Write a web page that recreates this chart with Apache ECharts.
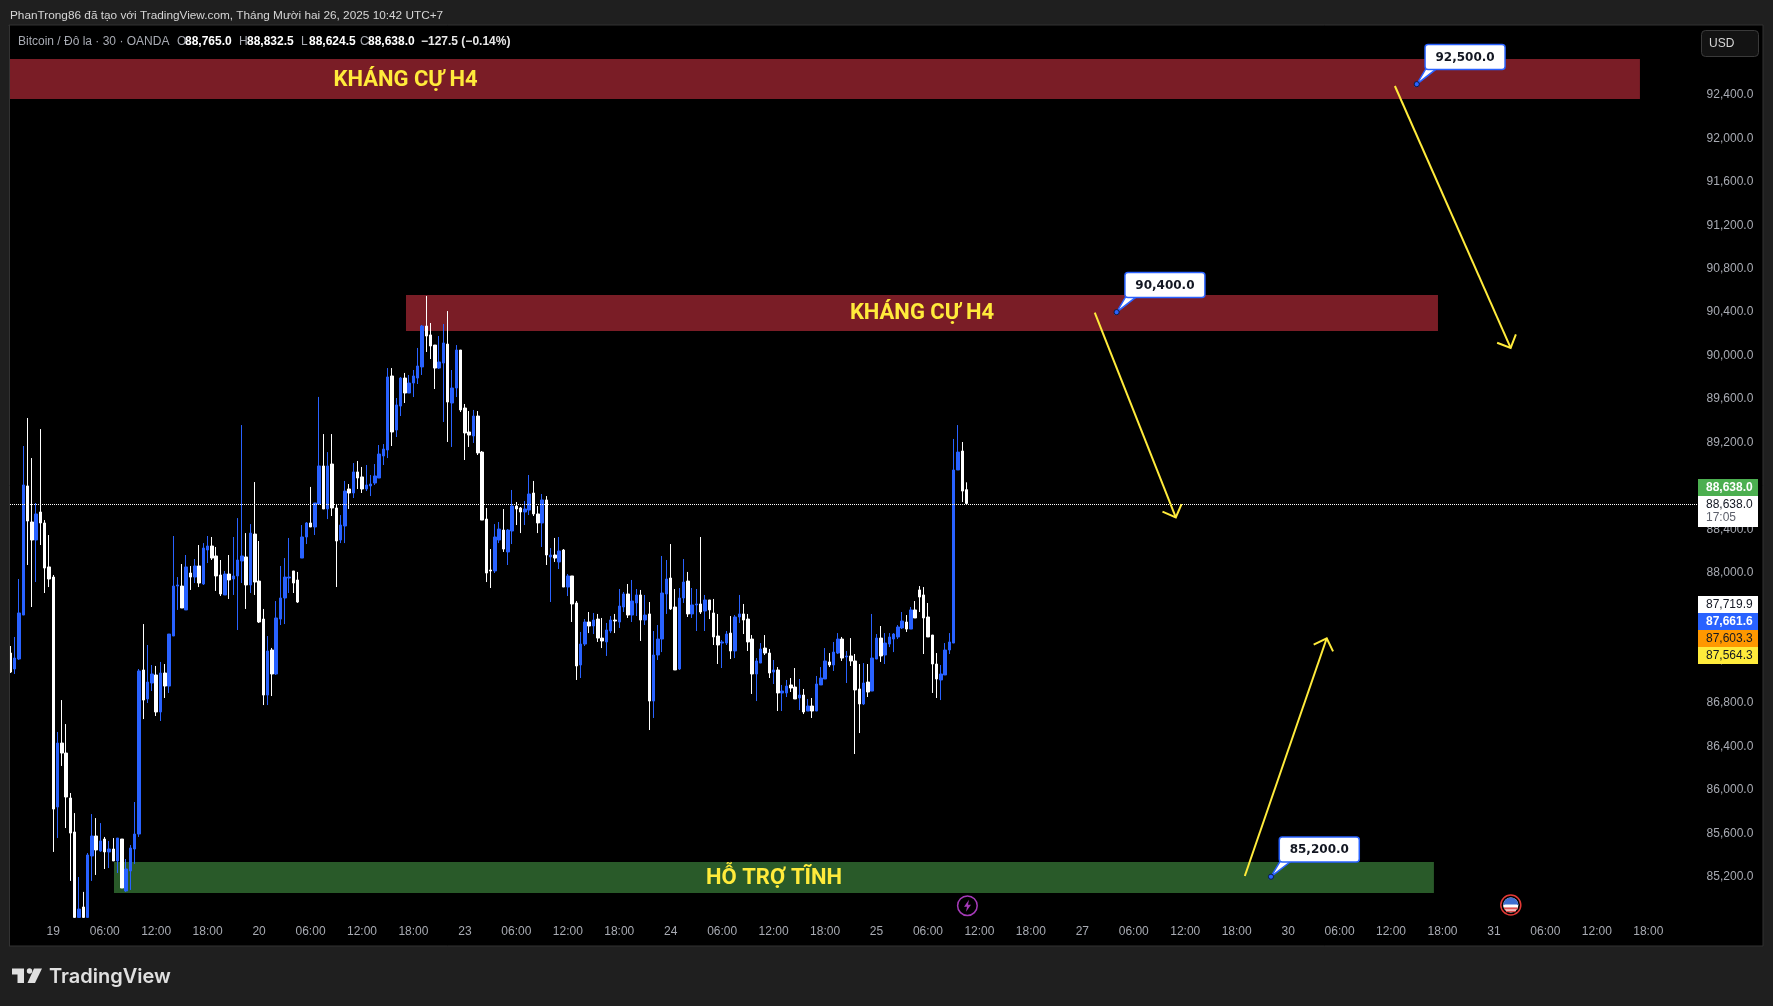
<!DOCTYPE html>
<html>
<head>
<meta charset="utf-8">
<style>html,body{margin:0;padding:0;background:#1f1f1f}#c{width:1773px;height:1006px}</style>
<script src="https://cdn.jsdelivr.net/npm/echarts@6/dist/echarts.min.js"></script>
</head>
<body>
<div id="c"></div>
<script>
const opens = [
87260,87113,87205,87610,88799,88467,88301,88559,88458,88053,
87960,85842,86431,86339,85925,85612,84825,84921,84825,85391,
85575,85437,85547,85428,85455,85345,85547,85069,85253,85455,
85593,87104,86837,86984,87058,86717,87076,86956,87417,87877,
87877,87657,87997,87960,88062,87896,88209,88246,88154,87979,
87795,87988,87942,87970,88108,88145,87887,88356,87923,87573,
86873,87288,87067,87573,87767,87951,88016,87933,88135,88329,
88458,88421,88633,88983,88587,89001,88596,88301,88430,88771,
88734,88928,88882,88771,88799,88826,88872,89075,89130,89812,
89314,89535,89793,89655,89747,89793,89895,90272,90190,90097,
89885,89931,90106,89563,89701,90051,89517,89296,89259,89443,
89111,88494,88025,88016,88301,88393,88191,88384,88614,88596,
88559,88577,88734,88541,88458,88670,88145,88163,88099,88209,
87868,87970,87721,87150,87343,87546,87509,87573,87398,87362,
87463,87564,87546,87684,87804,87610,87721,87795,87564,87620,
86818,87242,87389,87804,87951,87684,87113,87767,87923,87620,
87703,87712,87647,87749,87629,87417,87352,87352,87444,87279,
87592,87620,87573,87389,87067,87168,87306,87260,87085,87104,
86892,86892,86966,86947,86846,86873,86726,86772,86726,86966,
87021,87178,87150,87260,87389,87224,87233,87187,86929,86791,
86993,86910,87205,87398,87242,87343,87389,87408,87491,87546,
87481,87657,87841,87795,87592,87426,87159,87012,87058,87288,
87352,88946,89121,88765];
const closes = [
87085,87214,87629,88808,88476,88301,88541,88458,88043,87942,
85823,86431,86339,85934,85602,84825,84902,84825,85400,85575,
85446,85529,85428,85455,85345,85556,85096,85271,85464,85593,
87095,86827,86993,87067,86717,87076,86956,87435,87877,87887,
87675,88053,87960,88062,87905,88227,88246,88135,87970,87804,
87988,87933,87970,88117,88154,87887,88365,87914,87546,86873,
87279,87067,87583,87767,87960,87960,87905,87730,88329,88458,
88421,88642,88983,88587,88983,88596,88292,88439,88752,88734,
88928,88872,88771,88808,88817,88891,89093,89139,89803,89296,
89545,89793,89655,89747,89812,89904,90272,90180,90088,89885,
89941,90116,89572,89701,90051,89499,89287,89268,89443,89103,
88485,87997,88016,88329,88402,88218,88393,88614,88587,88559,
88587,88725,88541,88458,88670,88163,88163,88135,88200,87868,
87970,87712,87141,87343,87546,87509,87564,87398,87371,87472,
87564,87555,87693,87804,87610,87739,87795,87564,87610,86818,
87242,87389,87813,87942,87666,87104,87767,87914,87620,87703,
87712,87638,87749,87657,87408,87334,87362,87435,87279,87592,
87620,87564,87362,87067,87187,87297,87260,87076,87104,86892,
86910,86956,86938,86837,86873,86717,86772,86726,86975,87030,
87187,87150,87269,87389,87214,87233,87187,86920,86791,86984,
86901,87214,87398,87233,87352,87408,87435,87500,87555,87481,
87657,87583,87776,87583,87408,87159,87021,87067,87288,87362,
88946,89111,88752,88638];
const lows = [
87076,87067,87196,87610,88071,87684,87914,88255,87813,87868,
85428,85556,86220,85648,85161,84825,84825,84825,84825,85161,
85216,85428,85271,85280,85345,85234,85096,85060,85078,85317,
85566,86652,86800,86910,86680,86634,86846,86892,87417,87657,
87675,87657,87841,87905,87868,87887,88089,88117,87832,87785,
87795,87758,87795,87472,87905,87666,87813,87795,87537,86781,
86781,86864,87058,87518,87527,87813,87813,87721,88135,88264,
88421,88347,88633,88587,88494,88522,87868,88273,88273,88587,
88688,88771,88734,88752,88706,88808,88872,88992,89056,89167,
89250,89443,89563,89655,89618,89738,89821,90033,89968,89692,
89876,89388,89204,89158,89618,89480,89038,89158,89195,89084,
88485,87914,87859,87997,88273,88191,88071,88264,88439,88365,
88439,88531,88522,88365,88237,88071,87730,88099,88034,87868,
87785,87546,87012,87030,87325,87444,87435,87362,87306,87233,
87444,87444,87491,87638,87583,87546,87601,87371,87518,86551,
86662,87196,87269,87620,87657,87104,87104,87721,87592,87583,
87463,87620,87463,87573,87334,87159,87122,87334,87205,87214,
87537,87435,87279,86883,86818,87168,87242,87030,86975,86726,
86726,86855,86901,86837,86735,86698,86726,86662,86726,86966,
87021,87131,87095,87251,87187,86984,87141,86330,86523,86781,
86855,86910,87205,87178,87159,87315,87269,87389,87481,87454,
87481,87583,87638,87251,87408,86892,86846,86827,87058,87251,
87352,88946,88651,88624.5];
const highs = [
87325,87408,87942,89167,89425,89056,88642,89323,88485,88347,
87979,86533,86827,86606,85971,85786,85197,85060,85418,85777,
85740,85694,85566,85529,85556,85556,85547,85363,85492,85888,
87113,87527,87334,87150,87141,87178,87159,87435,88338,87960,
88080,88163,88062,88126,88255,88273,88338,88329,88237,88117,
88016,88163,88329,88503,89360,88365,88448,88835,88292,87666,
87417,87307,87739,88062,88135,88320,88016,88007,88439,88467,
88790,88642,89619,89277,89111,89277,88633,88531,88845,88817,
89010,89029,88974,88992,88900,89001,89176,89185,89885,89885,
89609,89803,89840,89821,89867,90070,90282,90549,90300,90097,
90180,90291,90410,89867,90097,90051,89554,89489,89499,89489,
89121,88596,88218,88448,88467,88587,88402,88762,88651,88605,
88660,88900,88845,88614,88725,88706,88227,88320,88329,88218,
87988,87970,87739,87454,87573,87638,87629,87620,87583,87537,
87601,87620,87850,87822,87896,87933,87850,87841,87795,87730,
87463,87518,88154,88117,88264,87850,87859,88126,88007,87859,
87850,88329,87795,87749,87758,87620,87380,87463,87601,87610,
87795,87712,87620,87426,87214,87352,87426,87297,87196,87131,
86966,87012,87030,87122,87021,86929,86837,86846,87049,87131,
87306,87260,87362,87444,87408,87279,87398,87251,87159,87168,
87159,87620,87435,87509,87444,87444,87444,87518,87638,87610,
87684,87739,87877,87868,87721,87426,87260,87150,87352,87444,
89232,89360,89204,88832.5];

const xTickLabels = ['19','06:00','12:00','18:00','20','06:00','12:00','18:00','23','06:00','12:00','18:00','24','06:00','12:00','18:00','25','06:00','12:00','18:00','27','06:00','12:00','18:00','30','06:00','12:00','18:00','31','06:00','12:00','18:00'];
const yTicks = [85200,85600,86000,86400,86800,87200,87600,88000,88400,88800,89200,89600,90000,90400,90800,91200,91600,92000,92400,92800];
const lastPrice = 88638;

const zoneNames = ['KHÁNG CỰ H4','KHÁNG CỰ H4','HỖ TRỢ TĨNH'];
const zoneStart = [-0.5,92.26,24.16];
const zoneEnd = [380.05,332.95,332];
const zoneHigh = [92732,90558,85335];
const zoneLow = [92363,90226,85050];
const zoneLabelAt = [92.15,212.6,178.1];

const noteValues = [92500,90400,85200];
const noteAt = [328,258,294];

const arrowFromAt = [322.9,252.9,287.9];
const arrowFromPrice = [92483,90395,85206];
const arrowToAt = [349.9,271.8,307];
const arrowToPrice = [90070,88510,87396];

const tagValues = ['88,638.0','88,638.0','87,719.9','87,661.6','87,603.3','87,564.3'];
const ohlcValues = ['88,765.0','88,832.5','88,624.5','88,638.0'];

const FONT = '"Liberation Sans", Arial, sans-serif';
const GRID_LEFT = 8.26, GRID_RIGHT_X = 1697.6, GRID_TOP = 26, GRID_BOTTOM_Y = 918;
const BAR_COUNT = 394;
const categories = [];
for (let i = 0; i < BAR_COUNT; i++) {
  const k = (i - 10) / 12;
  categories.push(Number.isInteger(k) && k >= 0 && k < xTickLabels.length ? xTickLabels[k] : '');
}
const candleData = opens.map((o, i) => [o, closes[i], lows[i], highs[i]]);
const fmt = v => v.toLocaleString('en-US', {minimumFractionDigits: 1, maximumFractionDigits: 1});

function txt(x, y, text, fill, size, weight, align, family) {
  return {type: 'text', z: 200, silent: true, x, y, style: {text, fill, font: `${weight || 'normal'} ${size || 12}px ${family || FONT}`, align: align || 'left', verticalAlign: 'middle'}};
}
function box(x, y, w, h, fill, extra) {
  return Object.assign({type: 'rect', z: 150, silent: true, shape: {x, y, width: w, height: h}, style: {fill}}, extra || {});
}

const tagStyles = [
  {y: 479, h: 17, bg: '#4caf50', fg: '#ffffff', w: 'bold'},
  {y: 496, h: 31, bg: '#ffffff', fg: '#131722', w: 'normal'},
  {y: 596, h: 17, bg: '#ffffff', fg: '#131722', w: 'normal'},
  {y: 613, h: 17, bg: '#2962ff', fg: '#ffffff', w: 'bold'},
  {y: 630, h: 17, bg: '#ff9800', fg: '#131722', w: 'normal'},
  {y: 647, h: 17, bg: '#ffeb3b', fg: '#131722', w: 'normal'}
];
const graphics = [];
// panel
graphics.push({type: 'rect', z: -10, silent: true, shape: {x: 9, y: 25, width: 1754, height: 921}, style: {fill: '#000000', stroke: '#333333', lineWidth: 1}});
graphics.push(box(0, 26, 9.5, 920, '#1f1f1f'));
graphics.push({type: 'line', z: 151, silent: true, shape: {x1: 9.5, y1: 25, x2: 9.5, y2: 946}, style: {stroke: '#333333', lineWidth: 1}});
// header
graphics.push(txt(10, 15.5, 'PhanTrong86 đã tạo với TradingView.com, Tháng Mười hai 26, 2025 10:42 UTC+7', '#d6d6d6', 11.8));
graphics.push(txt(18, 42, 'Bitcoin / Đô la · 30 · OANDA', '#a8abb3', 12));
['O','H','L','C'].forEach((l, i) => {
  const xs = [177, 239, 301, 360];
  graphics.push(txt(xs[i], 42, l, '#a8abb3', 12));
  graphics.push(txt(xs[i] + 8, 42, ohlcValues[i], '#ffffff', 12, 'bold'));
});
graphics.push(txt(421, 42, '−127.5 (−0.14%)', '#e8e8e8', 12, 'bold'));
// USD badge
graphics.push({type: 'rect', z: 150, silent: true, shape: {x: 1701.5, y: 30.5, width: 57, height: 26, r: 4}, style: {fill: '#131313', stroke: '#3a3a3a', lineWidth: 1}});
graphics.push(txt(1709, 44, 'USD', '#d6d6d6', 12));
// price tags
tagStyles.forEach((t, i) => {
  graphics.push(box(1698, t.y, 60, t.h, t.bg));
  graphics.push(txt(1706, t.y + 8.5, tagValues[i], t.fg, 12, t.w));
});
graphics.push(txt(1706, 518, '17:05', '#5d606b', 12));
// event icons
graphics.push({type: 'circle', z: 150, silent: true, shape: {cx: 967.4, cy: 905.7, r: 9.8}, style: {fill: '#000', stroke: '#a53ab8', lineWidth: 1.5}});
graphics.push({type: 'polygon', z: 151, silent: true, shape: {points: [[969,899.7],[964,906.7],[967,906.7],[966,911.7],[971,904.7],[968,904.7]]}, style: {fill: '#a53ab8'}});
graphics.push({type: 'circle', z: 150, silent: true, shape: {cx: 1510.8, cy: 905, r: 10}, style: {fill: '#000', stroke: '#e53935', lineWidth: 1.5}});
graphics.push({type: 'circle', z: 151, silent: true, shape: {cx: 1510.8, cy: 905, r: 7.6}, style: {fill: '#ffffff'}});
graphics.push({type: 'sector', z: 152, silent: true, shape: {cx: 1510.8, cy: 905, r: 7.6, startAngle: Math.PI, endAngle: Math.PI * 2}, style: {fill: '#3f6fd0'}});
graphics.push(box(1504.5, 904.5, 12.6, 1.8, '#ffffff', {z: 153}));
graphics.push(box(1503.6, 905.2, 14.4, 1.8, '#ffffff', {z: 153}));
graphics.push(box(1504, 907.4, 13.6, 2.1, '#e05050', {z: 153}));
graphics.push(box(1506, 910.6, 9.6, 1.6, '#e05050', {z: 153}));
// TradingView logo
graphics.push({type: 'polygon', z: 150, silent: true, shape: {points: [[12,968.5],[24,968.5],[24,983],[17.5,983],[17.5,974.5],[12,974.5]]}, style: {fill: '#e0e0e0'}});
graphics.push({type: 'circle', z: 150, silent: true, shape: {cx: 29.5, cy: 971, r: 2.7}, style: {fill: '#e0e0e0'}});
graphics.push({type: 'polygon', z: 150, silent: true, shape: {points: [[34,968.5],[42,968.5],[35,983],[27.5,983]]}, style: {fill: '#e0e0e0'}});
graphics.push(txt(49, 976.5, 'TradingView', '#e0e0e0', 20, '600', 'left', 'Inter, Roboto, sans-serif'));

const zoneColors = ['#7a1d26', '#7a1d26', '#295a29'];
const zoneLabelShift = [1.5, 0.5, 0.5];
const zoneData = zoneNames.map((n, i) => [zoneStart[i], zoneEnd[i], zoneLow[i], zoneHigh[i], zoneLabelAt[i], i]);
const noteData = noteValues.map((v, i) => [noteAt[i], v]);
const arrowData = arrowFromAt.map((a, i) => [a, arrowFromPrice[i], arrowToAt[i], arrowToPrice[i]]);

function renderZone(params, api) {
  const i = api.value(5);
  const p0 = api.coord([api.value(0), api.value(3)]);
  const p1 = api.coord([api.value(1), api.value(2)]);
  const lx = api.coord([api.value(4), api.value(3)])[0];
  return {type: 'group', children: [
    {type: 'rect', shape: {x: p0[0], y: p0[1], width: p1[0] - p0[0], height: p1[1] - p0[1]}, style: {fill: zoneColors[i]}},
    {type: 'text', x: lx, y: (p0[1] + p1[1]) / 2 + zoneLabelShift[i], style: {text: zoneNames[i], fill: '#ffeb3b', font: 'bold 22px Roboto, sans-serif', align: 'center', verticalAlign: 'middle'}}
  ]};
}
function renderNote(params, api) {
  const d = api.coord([api.value(0), api.value(1)]);
  const l = d[0] + 8.3, t = d[1] - 39.7, w = 80, h = 25;
  return {type: 'group', children: [
    {type: 'polygon', shape: {points: [[l + 1, t + h - 1], [l + 12, t + h - 1], [d[0], d[1]]]}, style: {fill: '#ffffff', stroke: '#2962ff', lineWidth: 1.5}},
    {type: 'rect', shape: {x: l, y: t, width: w, height: h, r: 3}, style: {fill: '#ffffff', stroke: '#2962ff', lineWidth: 1.5}},
    {type: 'text', x: l + w / 2, y: t + h / 2 + 0.5, style: {text: fmt(api.value(1)), fill: '#131722', font: 'bold 12px "DejaVu Sans", sans-serif', align: 'center', verticalAlign: 'middle'}},
    {type: 'circle', shape: {cx: d[0], cy: d[1], r: 2.6}, style: {fill: '#2962ff', stroke: '#0b1b44', lineWidth: 1}}
  ]};
}
function renderArrow(params, api) {
  const a = api.coord([api.value(0), api.value(1)]);
  const b = api.coord([api.value(2), api.value(3)]);
  const ang = Math.atan2(a[1] - b[1], a[0] - b[0]);
  const L = 14.5, D = Math.PI / 4;
  const w1 = [b[0] + L * Math.cos(ang + D), b[1] + L * Math.sin(ang + D)];
  const w2 = [b[0] + L * Math.cos(ang - D), b[1] + L * Math.sin(ang - D)];
  const st = {stroke: '#ffeb3b', lineWidth: 2, fill: null};
  return {type: 'group', children: [
    {type: 'polyline', shape: {points: [a, b]}, style: st},
    {type: 'polyline', shape: {points: [w1, b, w2]}, style: st}
  ]};
}
function renderPriceLine(params, api) {
  const y = Math.ceil(api.coord([0, api.value(0)])[1]) + 0.5;
  return {type: 'line', shape: {x1: 10, y1: y, x2: 1697, y2: y}, style: {stroke: '#ffffff', lineWidth: 1, lineDash: [1, 1]}};
}

const chart = echarts.init(document.getElementById('c'), null, {renderer: 'canvas', width: 1773, height: 1006});
chart.setOption({
  animation: false,
  backgroundColor: '#1f1f1f',
  textStyle: {fontFamily: FONT},
  grid: {left: GRID_LEFT, top: GRID_TOP, width: GRID_RIGHT_X - GRID_LEFT, height: GRID_BOTTOM_Y - GRID_TOP, containLabel: false},
  xAxis: [
    {type: 'category', data: categories, boundaryGap: true,
     axisLine: {show: false}, axisTick: {show: false}, splitLine: {show: false},
     axisLabel: {interval: i => ((i - 10) % 12 === 0 && i >= 10), color: '#a8abb3', fontSize: 12, fontFamily: FONT, margin: 8, hideOverlap: false}},
    {type: 'value', min: -0.5, max: BAR_COUNT - 0.5, show: false, splitLine: {show: false}}
  ],
  yAxis: {type: 'value', position: 'right', min: 84819.6, max: 93035.5, scale: true,
    axisLine: {show: false}, axisTick: {show: false}, splitLine: {show: false},
    axisLabel: {customValues: yTicks, formatter: v => fmt(v), color: '#a8abb3', fontSize: 12, fontFamily: FONT, margin: 9, align: 'left', padding: [2, 0, 0, 0]}},
  graphic: {elements: graphics},
  series: [
    {type: 'custom', name: 'zones', xAxisIndex: 1, yAxisIndex: 0, z: 1, silent: true, clip: true, renderItem: renderZone, data: zoneData},
    {type: 'candlestick', name: 'Bitcoin / Đô la', xAxisIndex: 0, yAxisIndex: 0, z: 2, data: candleData, barWidth: 3, clip: true, large: false,
     itemStyle: {color: '#2962ff', color0: '#ffffff', borderColor: '#2962ff', borderColor0: '#ffffff', borderWidth: 1}},
    {type: 'custom', name: 'last price', xAxisIndex: 1, yAxisIndex: 0, z: 3, silent: true, encode: {x: 1, y: 0}, renderItem: renderPriceLine, data: [[lastPrice, 0]]},
    {type: 'custom', name: 'arrows', xAxisIndex: 1, yAxisIndex: 0, z: 3, silent: true, clip: true, renderItem: renderArrow, data: arrowData},
    {type: 'custom', name: 'notes', xAxisIndex: 1, yAxisIndex: 0, z: 4, silent: true, clip: true, renderItem: renderNote, data: noteData}
  ]
});
</script>
</body>
</html>
